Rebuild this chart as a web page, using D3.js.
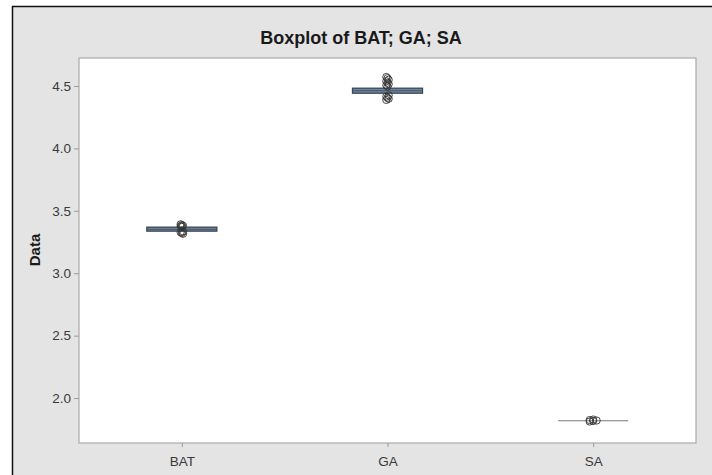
<!DOCTYPE html>
<html lang="en">
<head>
<meta charset="utf-8" />
<title>Boxplot of BAT; GA; SA</title>
<style>
   body { margin:0; padding:0; background:#fff; font-family:"Liberation Sans", Arial, sans-serif; }
   svg { display:block; }
</style>
<script src="https://d3js.org/d3.v7.min.js"></script>
</head>
<body>
<svg id="main" width="712" height="475"></svg>
<script>
// values
var categories = ['BAT','GA','SA'];
var q1s        = [3.337, 4.442, 1.818];
var medians    = [3.352, 4.462, 1.818];
var q3s        = [3.369, 4.482, 1.818];
var whiskLo    = [3.330, 4.430, 1.817];
var whiskHi    = [3.375, 4.495, 1.819];
var outliers   = [
   [3.392, 3.386, 3.381, 3.377, 3.372, 3.334, 3.328, 3.322, 3.316],
   [4.572, 4.562, 4.550, 4.538, 4.526, 4.515, 4.505, 4.496, 4.425, 4.415, 4.405, 4.397, 4.388],
   [1.812, 1.816, 1.820, 1.824, 1.828]
];
var yTicks = [2.0, 2.5, 3.0, 3.5, 4.0, 4.5];

var svg = d3.select('#main');
var W = 712, H = 475;
var m = {left:79, right:696, top:58, bottom:443};

// page background and the black frame edges
svg.append('rect').attr('x',12).attr('y',6).attr('width',W-12).attr('height',H-6).style('fill','#e4e4e4');
svg.append('line').attr('x1',12).attr('x2',W).attr('y1',6.5).attr('y2',6.5).style('stroke','#111').style('stroke-width',1.5);
svg.append('line').attr('x1',12.5).attr('x2',12.5).attr('y1',6).attr('y2',H).style('stroke','#111').style('stroke-width',1.5);

// plot area
svg.append('rect').attr('x',m.left).attr('y',m.top).attr('width',m.right-m.left).attr('height',m.bottom-m.top)
   .style('fill','#fff').style('stroke','#aaa').style('stroke-width',1.2);

var x = d3.scalePoint().domain(categories).range([m.left,m.right]).padding(0.5);
var y = d3.scaleLinear().domain([1.64,4.724]).range([m.bottom,m.top]);

var yAxis = svg.append('g').attr('transform','translate('+m.left+',0)')
   .call(d3.axisLeft(y).tickValues(yTicks).tickFormat(d3.format('.1f')).tickSize(5).tickPadding(3));
var xAxis = svg.append('g').attr('transform','translate(0,'+m.bottom+')')
   .call(d3.axisBottom(x).tickSize(4).tickPadding(7));
[yAxis,xAxis].forEach(function(a) {
   a.select('.domain').remove();
   a.selectAll('.tick line').style('stroke','#999');
   a.selectAll('.tick text').style('font-family','"Liberation Sans", Arial, sans-serif').style('font-size','13.5px').style('fill','#3a3a3a');
});
xAxis.selectAll('.tick text').attr('dy','0.9em');

// titles
svg.append('text').attr('x',361).attr('y',44).style('text-anchor','middle')
   .style('font-size','18px').style('font-weight','bold').style('fill','#1a1a1a').text('Boxplot of BAT; GA; SA');
svg.append('text').attr('transform','translate(40,250) rotate(-90)').style('text-anchor','middle')
   .style('font-size','15px').style('font-weight','bold').style('fill','#1a1a1a').text('Data');

// boxes
var bw = 70;
var rows = categories.map(function(c,i) {
   return {cat:c, q1:q1s[i], med:medians[i], q3:q3s[i], lo:whiskLo[i], hi:whiskHi[i], out:outliers[i]};
});
var g = svg.append('g').selectAll('g').data(rows).enter().append('g');

g.append('line')
   .attr('x1',function(d) { return x(d.cat); }).attr('x2',function(d) { return x(d.cat); })
   .attr('y1',function(d) { return y(d.lo); }).attr('y2',function(d) { return y(d.hi); })
   .style('stroke','#444').style('stroke-width',1);
g.append('rect')
   .attr('x',function(d) { return x(d.cat)-bw/2; }).attr('width',bw)
   .attr('y',function(d) { return y(d.q3); })
   .attr('height',function(d) { return y(d.q1)-y(d.q3); })
   .style('fill','#6f86a3')
   .style('stroke',function(d) { return d.q3>d.q1 ? '#3c4754' : '#777'; })
   .style('stroke-width',function(d) { return d.q3>d.q1 ? 1.3 : 1; });
g.append('line')
   .attr('x1',function(d) { return x(d.cat)-bw/2; }).attr('x2',function(d) { return x(d.cat)+bw/2; })
   .attr('y1',function(d) { return y(d.med); }).attr('y2',function(d) { return y(d.med); })
   .style('stroke',function(d) { return d.q3>d.q1 ? '#4a5566' : '#777'; }).style('stroke-width',1);

// outliers: overlapping symbols are nudged side by side
g.each(function(d) {
   var step = (d.q3>d.q1) ? 1.2 : 3.5;
   d3.select(this).selectAll('circle').data(d.out).enter().append('circle')
      .attr('cx',function(v,i) { return x(d.cat)+((i%3)-1)*step; })
      .attr('cy',function(v) { return y(v); })
      .attr('r',3.6)
      .style('fill','none').style('stroke','#333').style('stroke-width',0.9);
});
</script>
</body>
</html>
